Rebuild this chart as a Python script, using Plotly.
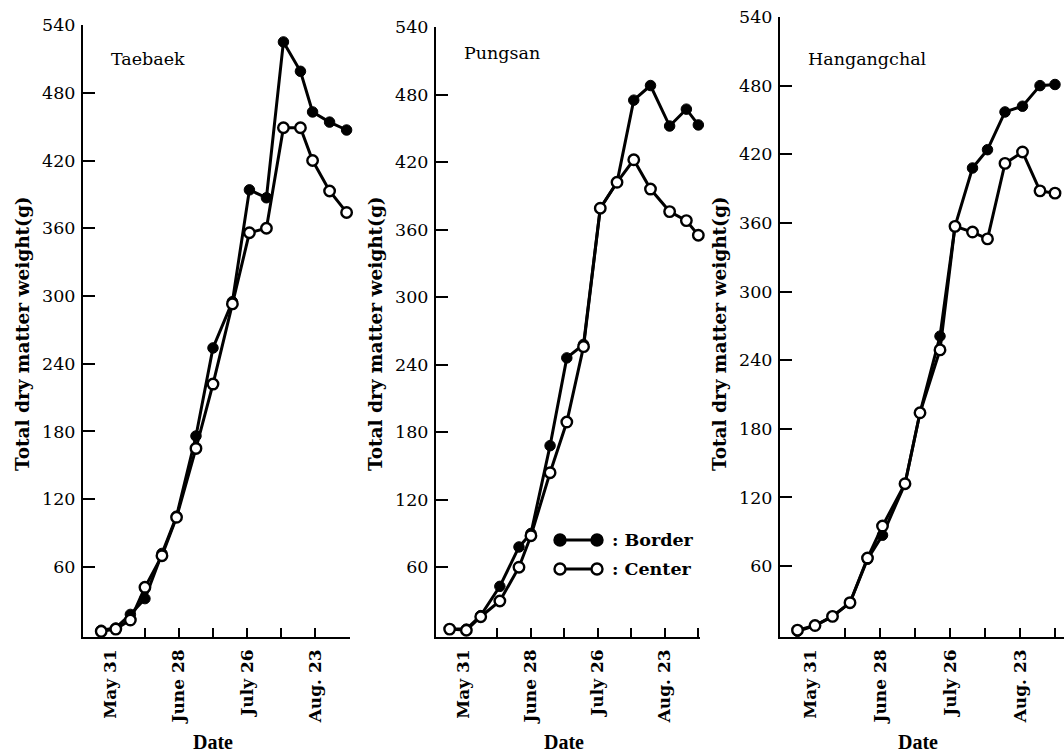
import plotly.graph_objects as go

# ---------------- data (x = days after May 31) ----------------
tb_days = [-4, 2, 8, 14, 21, 27, 35, 42, 50, 57, 64, 71, 78, 83, 90, 97]
tb_border = [4, 6, 18, 32, 72, 105, 176, 254, 295, 394, 387, 525, 499, 463, 454, 447]
tb_center = [3, 5, 13, 42, 70, 104, 165, 222, 293, 356, 360, 449, 449, 420, 393, 374]

ps_days = [-6, 1, 7, 15, 23, 28, 36, 43, 50, 57, 64, 71, 78, 86, 93, 98]
ps_border = [5, 5, 17, 43, 78, 90, 168, 246, 258, 379, 402, 475, 488, 452, 467, 453]
ps_center = [5, 4, 16, 30, 60, 88, 144, 189, 256, 379, 402, 422, 396, 376, 368, 355]

hg_days = [-5, 2, 9, 16, 23, 29, 38, 44, 52, 58, 65, 71, 78, 85, 92, 98]
hg_border = [3, 8, 16, 28, 66, 87, 132, 194, 261, 357, 408, 424, 457, 462, 480, 481]
hg_center = [4, 8, 16, 28, 67, 95, 132, 194, 249, 357, 352, 346, 412, 422, 388, 386]

panel_names = ["Taebaek", "Pungsan", "Hangangchal"]
label_days = [0, 28, 56, 84]
label_text = ["May 31", "June 28", "July 26", "Aug. 23"]
tick_days = [14, 28, 42, 56, 70, 84, 98]
y_ticks = [60, 120, 180, 240, 300, 360, 420, 480, 540]
y_title = "Total dry matter weight(g)"
x_title = "Date"
legend_labels = [": Border", ": Center"]

W, H = 1064, 755
def px(x):
    return x / W
def py(y):
    return 1 - y / H

# panel geometry in pixels: (left, right, top(540), bottom), x-range
panels = [
    dict(l=83, r=350, t=25, b=637, xr=[-11.5, 98.4]),
    dict(l=436, r=700, t=27, b=637, xr=[-11.7, 98.7]),
    dict(l=780, r=1064, t=17, b=637, xr=[-12.0, 101.6]),
]
series = [
    (tb_days, tb_border, tb_center),
    (ps_days, ps_border, ps_center),
    (hg_days, hg_border, hg_center),
]

SERIF = "DejaVu Serif"
fig = go.Figure()
layout = dict(
    width=W, height=H,
    margin=dict(l=0, r=0, t=0, b=0),
    paper_bgcolor="white", plot_bgcolor="white",
    showlegend=False,
    font=dict(family=SERIF, color="black"),
)

annotations = []
for i, (p, (d, b, c)) in enumerate(zip(panels, series)):
    n = i + 1
    xa = "x" if n == 1 else f"x{n}"
    ya = "y" if n == 1 else f"y{n}"
    fig.add_trace(go.Scatter(
        x=d, y=b, xaxis=xa, yaxis=ya, mode="lines+markers",
        line=dict(color="black", width=3),
        marker=dict(size=10.5, color="black", line=dict(color="black", width=1)),
        cliponaxis=False, name="Border"))
    fig.add_trace(go.Scatter(
        x=d, y=c, xaxis=xa, yaxis=ya, mode="lines+markers",
        line=dict(color="black", width=3),
        marker=dict(size=10.5, color="white", line=dict(color="black", width=2.4)),
        cliponaxis=False, name="Center"))
    xdom = [px(p["l"]), px(p["r"])]
    ydom = [py(p["b"]), py(p["t"])]
    yr = [-2, 540]
    xk = "xaxis" if n == 1 else f"xaxis{n}"
    yk = "yaxis" if n == 1 else f"yaxis{n}"
    lk = f"xaxis{n + 3}"
    layout[xk] = dict(
        domain=xdom, range=p["xr"], anchor=ya, showgrid=False, zeroline=False,
        showline=True, linecolor="black", linewidth=2,
        tickmode="array", tickvals=tick_days, ticks="inside", ticklen=9,
        tickwidth=2, tickcolor="black", showticklabels=False, automargin=False)
    layout[lk] = dict(
        overlaying=xa, anchor=ya, side="bottom", range=p["xr"], domain=xdom,
        showgrid=False, zeroline=False, showline=False, ticks="",
        tickmode="array", tickvals=label_days, ticktext=label_text,
        tickangle=-90, ticklabelstandoff=8,
        tickfont=dict(family=SERIF, size=17, color="black", weight="bold"),
        automargin=False)
    layout[yk] = dict(
        domain=ydom, range=yr, anchor=xa, showgrid=False, zeroline=False,
        showline=True, linecolor="black", linewidth=2,
        tickmode="array", tickvals=y_ticks, ticks="inside", ticklen=12,
        tickwidth=2, tickcolor="black", ticklabelstandoff=2,
        tickfont=dict(family=SERIF, size=17.5, color="black"),
        automargin=False)
    # invisible trace on label axis so it renders
    fig.add_trace(go.Scatter(x=[label_days[0]], y=[0], xaxis=f"x{n + 3}", yaxis=ya,
                             mode="markers", marker=dict(opacity=0), hoverinfo="skip"))
    # panel name
    annotations.append(dict(
        text=panel_names[i], xref="paper", yref="paper",
        x=px(p["l"] + 26), y=py(59 if n != 2 else 53), xanchor="left", yanchor="middle",
        showarrow=False, font=dict(family=SERIF, size=17.5, color="black")))
    # x title
    annotations.append(dict(
        text=x_title, xref="paper", yref="paper",
        x=px((p["l"] + p["r"]) / 2 - 4), y=py(742), xanchor="center", yanchor="middle",
        showarrow=False, font=dict(family="Liberation Serif", size=20, color="black", weight="bold")))
    # y title
    annotations.append(dict(
        text=y_title, xref="paper", yref="paper", textangle=-90,
        x=px(p["l"] - 61), y=py(334), xanchor="center", yanchor="middle",
        showarrow=False, font=dict(family=SERIF, size=18.5, color="black", weight="bold")))

# custom legend in panel 2
shapes = []
leg_rows = [(540, "black"), (569, "white")]
for (yy, fillc), lab in zip(leg_rows, legend_labels):
    shapes.append(dict(type="line", xref="paper", yref="paper",
                       x0=px(560), x1=px(597), y0=py(yy), y1=py(yy),
                       line=dict(color="black", width=3)))
    for xx in (560, 597):
        shapes.append(dict(type="circle", xref="paper", yref="paper",
                           xsizemode="pixel", ysizemode="pixel",
                           xanchor=px(xx), yanchor=py(yy),
                           x0=-5.5, x1=5.5, y0=-5.5, y1=5.5,
                           fillcolor=fillc, line=dict(color="black", width=2.4)))
    annotations.append(dict(
        text=lab, xref="paper", yref="paper", x=px(610), y=py(yy),
        xanchor="left", yanchor="middle", showarrow=False,
        font=dict(family=SERIF, size=17.5, color="black", weight="bold")))

layout["annotations"] = annotations
layout["shapes"] = shapes
fig.update_layout(**layout)
fig.write_html("out.html")
